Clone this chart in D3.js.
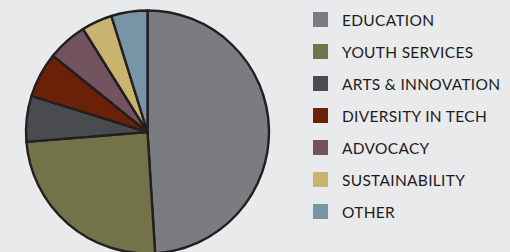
<!DOCTYPE html>
<html>
<head>
<meta charset="utf-8">
<script src="https://cdn.jsdelivr.net/npm/d3@7"></script>
<style>
  body { margin: 0; background: #e9eaec; }
  svg { display: block; }
</style>
</head>
<body>
<div class="chart"></div>
<script>
var categories = ["EDUCATION", "YOUTH SERVICES", "ARTS & INNOVATION", "DIVERSITY IN TECH", "ADVOCACY", "SUSTAINABILITY", "OTHER"];
var shares = [49, 24.7, 6.1, 6.0, 5.3, 4.1, 4.8];
var colors = ["#7b7c80", "#737349", "#4a4b4e", "#6b2008", "#735360", "#c8b46e", "#7895a5"];

var width = 510, height = 252;
var radius = 121.5;

var svg = d3.select('.chart')
    .append('svg')
    .attr('width', width)
    .attr('height', height);

var data = categories.map(function (c, i) {
    return { name: c, value: shares[i] };
});

var pie = d3.pie()
    .sort(null)
    .value(function (d) { return d.value; });

var arc = d3.arc()
    .innerRadius(0)
    .outerRadius(radius);

var colour = d3.scaleOrdinal()
    .domain(categories)
    .range(colors);

var g = svg.append('g')
    .attr('transform', 'translate(147.5,132)');

g.selectAll('path')
    .data(pie(data))
    .enter()
    .append('path')
    .attr('d', arc)
    .attr('fill', function (d) { return colour(d.data.name); })
    .attr('stroke', '#231f20')
    .attr('stroke-width', 2.4)
    .attr('stroke-linejoin', 'round');

var legend = svg.append('g')
    .attr('transform', 'translate(313,12)');

var rows = legend.selectAll('g')
    .data(categories)
    .enter()
    .append('g')
    .attr('transform', function (d, i) { return 'translate(0,' + i * 32 + ')'; });

rows.append('rect')
    .attr('width', 15)
    .attr('height', 15)
    .attr('fill', function (d) { return colour(d); });

rows.append('text')
    .attr('x', 29)
    .attr('y', 14)
    .attr('font-family', 'Lato, sans-serif')
    .attr('font-size', 15.5)
    .attr('letter-spacing', 0.3)
    .attr('fill', '#1f1b1c')
    .text(function (d) { return d; });
</script>
</body>
</html>
